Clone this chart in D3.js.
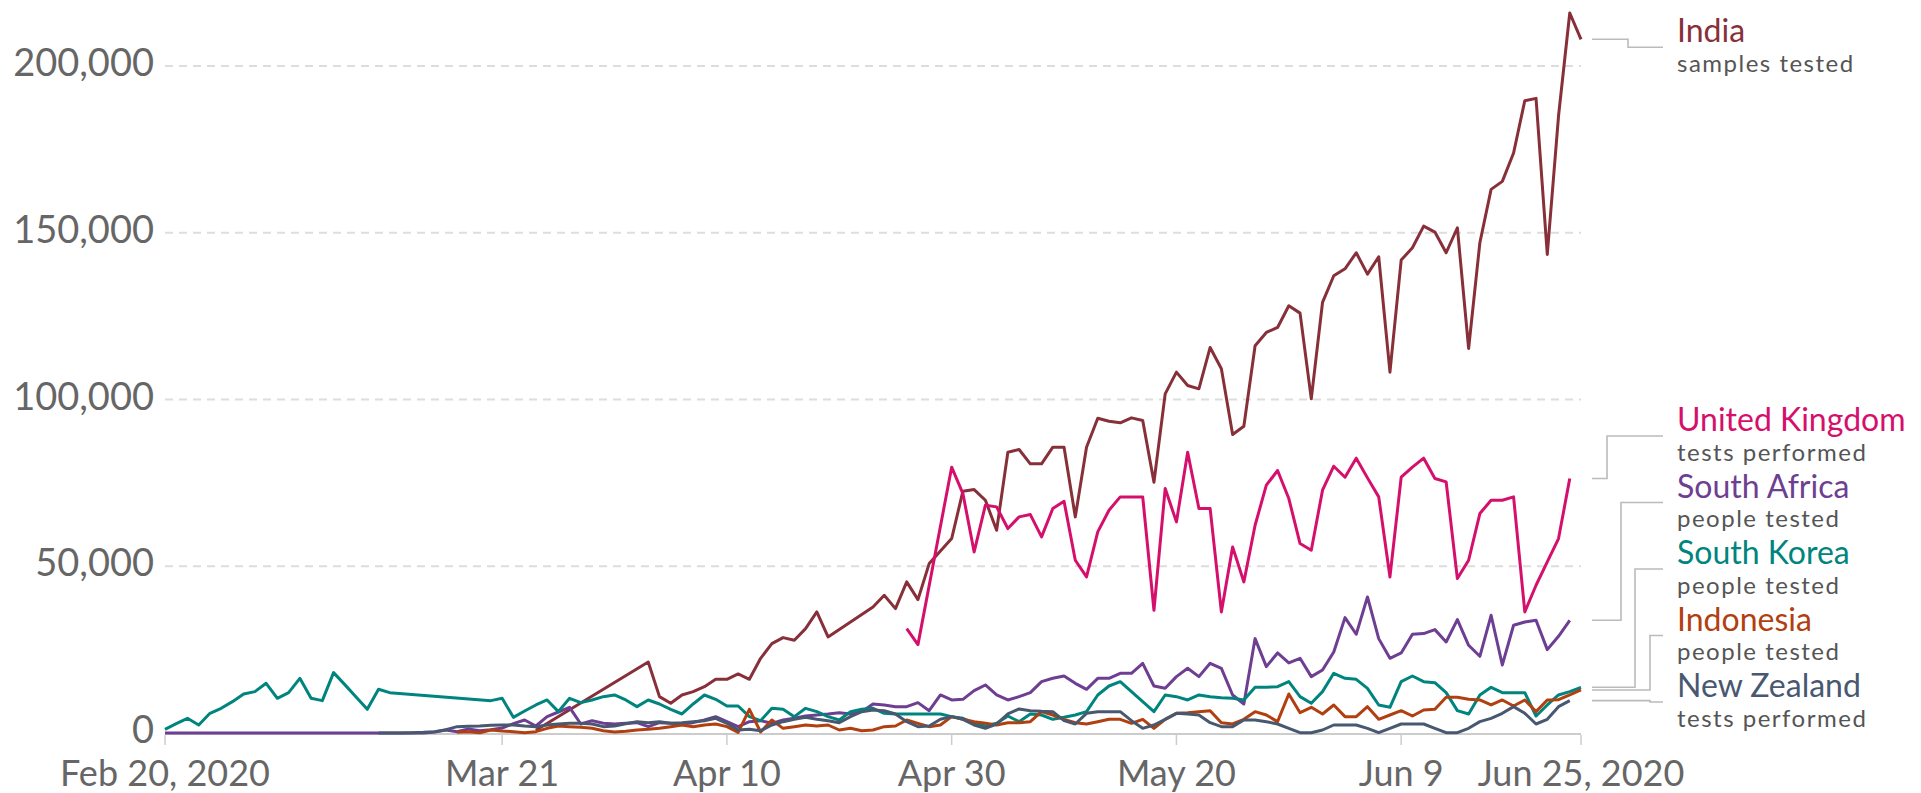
<!DOCTYPE html>
<html><head><meta charset="utf-8">
<script src="https://cdn.jsdelivr.net/npm/d3@7"></script>
<style>
body{margin:0;background:#fff}
svg{display:block}
text{font-family:Lato,"Open Sans",sans-serif}
</style>
</head><body>
<svg id="chart" width="1921" height="793"></svg>
<script>
// ---------- data ----------
const startDate = "2020-02-20";
const endDate = "2020-06-25";
const xTickDates = ["2020-02-20","2020-03-21","2020-04-10","2020-04-30","2020-05-20","2020-06-09","2020-06-25"];
const xTickLabels = ["Feb 20, 2020","Mar 21","Apr 10","Apr 30","May 20","Jun 9","Jun 25, 2020"];
const yTicks = [0, 50000, 100000, 150000, 200000];

const countries = ["India","United Kingdom","South Africa","South Korea","Indonesia","New Zealand"];
const units = ["samples tested","tests performed","people tested","people tested","people tested","tests performed"];
const colors = ["#883039","#d4106c","#6d3e91","#00847e","#b13f0f","#475870"];
// first day of each series, counted in days after Feb 20, 2020
const firstDay = [33, 66, 0, 0, 26, 19];

const india = [800,null,null,null,null,null,null,null,null,null,
  21300,10900,8900,11400,12400,13900,16100,16100,17700,16100,
  22400,26800,28600,27800,31300,36300,28800,null,33300,null,
  37800,41300,37300,45300,40000,50800,null,58300,72500,73000,
  69800,60800,84200,85000,80700,80700,85700,85700,64800,85700,
  94400,93500,93000,94500,93700,75200,101700,108200,104200,103200,
  115600,109200,89500,92000,116100,120100,121600,128100,125900,100200,
  129100,137100,139200,144000,137600,142800,108200,141800,145500,152000,
  150200,144000,151500,115300,147000,163000,165400,173900,189600,190300,
  143500,185000,215900,208000];

const unitedKingdom = [31300,26500,null,null,79700,71800,54300,68300,67800,61300,
  64800,65500,58800,67300,69500,51800,46800,60300,66800,70800,
  70800,70800,36800,73300,63300,84200,67300,67300,36300,55800,
  45300,62300,74300,78700,70300,56800,54800,72800,80000,76700,
  82400,76500,70800,46800,76700,79700,82400,76300,75300,46300,
  51800,65800,69800,69800,70800,36300,44300,51300,58300,76300];

const southAfrica = [0,0,0,0,0,0,0,0,0,0,0,0,0,0,0,0,0,0,0,0,0,0,0,0,
  300,900,400,1200,700,1000,1500,2800,3900,2100,
  4900,6300,7700,2700,3700,2900,2700,2900,3100,1900,
  3100,2900,2700,3100,3900,4900,3400,1900,3400,3700,
  2900,3900,4400,5100,5400,5700,6100,5700,6400,8700,
  8400,7900,7900,9100,6700,11400,9900,10100,12700,14400,
  11400,9900,10900,12100,15400,16400,17100,14900,13100,16400,
  16400,17900,17900,20900,14100,13400,16900,19400,16900,20900,
  19400,11400,8700,28300,19900,24000,21000,22400,16900,18900,
  24300,34600,29600,40800,28300,22400,24000,29600,29800,31000,
  27300,34000,26300,23000,35300,20400,32300,33300,33800,25000,
  29000,33800];

const southKorea = [1100,2800,4400,2400,5900,7400,9400,11700,12400,14900,
  10400,12100,16400,10400,9700,18100,14500,10800,7100,13100,
  12100,null,null,null,null,null,null,null,null,9700,
  10400,4700,6600,8400,9900,6400,10400,9100,9900,10900,
  11400,9900,7900,9900,8700,7100,5700,8700,11400,10100,
  8100,8100,4900,3700,7400,7100,4900,7400,6400,4900,
  3900,6400,7100,7400,5900,5700,5700,5700,5700,5700,
  4900,4400,2900,2100,2900,5100,3400,5700,5400,4100,
  4700,5400,6400,11400,14100,15400,12400,9400,6400,11400,
  10900,9900,11400,10900,10600,10400,9900,13700,13700,13900,
  15400,10900,8900,12400,17900,16400,16100,13400,8400,7700,
  15400,17100,15400,15100,12100,6700,5700,11400,13700,12100,
  12100,12100,5100,8400,11400,12400,13700];

const indonesia = [200,400,100,900,600,400,100,400,1400,2100,
  1900,1700,1400,700,300,500,900,1100,1400,1900,
  2400,1900,2400,2700,1900,200,7100,300,3900,1400,
  1900,2400,2100,2400,900,1400,700,900,1900,2100,
  3900,2900,1900,2400,4900,4100,3400,2900,2400,3100,
  3100,3400,6400,5400,4100,3100,2700,3400,4100,4100,
  2900,4100,1400,4100,5900,6100,6400,6700,3100,2700,
  4100,6400,5400,3400,11700,6100,7700,5700,8400,4900,
  4900,7900,4100,5400,6700,5100,6900,7100,10700,10700,
  10100,9900,8400,9900,8100,9900,6400,9900,10000,11400,
  12900];

const newZealand = [0,0,0,100,200,400,1000,1900,2000,2100,
  2300,2400,2400,2100,1900,2400,2700,2900,2900,2700,
  1900,2100,2800,3400,3100,3400,2900,3100,3400,3700,
  4400,2900,900,1100,700,2400,3400,4100,4700,4100,
  3700,3100,4900,6400,6900,6700,5700,3400,1900,2100,
  4100,4900,4100,2400,1400,2700,5700,7200,6700,6500,
  6400,3700,2700,5900,6400,6400,6400,3700,1400,2400,
  4100,5900,5700,5400,3100,1900,1900,3900,3900,3400,
  2700,1400,100,100,900,2400,2400,2400,1400,100,
  1400,2700,2700,2700,1400,100,100,1400,3400,4400,
  5900,7900,5900,2700,4100,7900,9700];

const seriesValues = [india, unitedKingdom, southAfrica, southKorea, indonesia, newZealand];

// ---------- layout ----------
const plotLeft = 165, plotRight = 1581, plotTop = 66, plotBottom = 733;
const kneeX = [1628, 1607, 1621, 1635, 1650, 1650];

const parse = d3.utcParse("%Y-%m-%d");
const t0 = parse(startDate);
const x = d3.scaleUtc().domain([t0, parse(endDate)]).range([plotLeft, plotRight]);
const y = d3.scaleLinear().domain([0, 200000]).range([plotBottom, plotTop]);

const svg = d3.select("#chart");

// gridlines
svg.append("g").selectAll("line")
  .data(yTicks.filter(d => d > 0)).join("line")
  .attr("x1", plotLeft).attr("x2", plotRight)
  .attr("y1", d => y(d)).attr("y2", d => y(d))
  .attr("stroke", "#dddddd").attr("stroke-width", 2)
  .attr("stroke-dasharray", "8,6");

// y labels
svg.append("g").selectAll("text")
  .data(yTicks).join("text")
  .attr("x", 154).attr("y", d => y(d) + 10)
  .attr("text-anchor", "end")
  .attr("font-size", 38).attr("fill", "#666")
  .text(d => d3.format(",")(d));

// baseline + x ticks
svg.append("line")
  .attr("x1", plotLeft).attr("x2", plotRight)
  .attr("y1", y(0) + 1).attr("y2", y(0) + 1)
  .attr("stroke", "#cccccc").attr("stroke-width", 2);

const xt = svg.append("g");
xt.selectAll("line").data(xTickDates).join("line")
  .attr("x1", d => x(parse(d))).attr("x2", d => x(parse(d)))
  .attr("y1", y(0) + 2).attr("y2", y(0) + 12)
  .attr("stroke", "#cccccc").attr("stroke-width", 1.5);
xt.selectAll("text").data(xTickDates).join("text")
  .attr("x", d => x(parse(d))).attr("y", 786)
  .attr("text-anchor", "middle")
  .attr("font-size", 36).attr("fill", "#666")
  .text((d, i) => xTickLabels[i]);

// lines
const line = d3.line().x(d => x(d.date)).y(d => y(d.v));
const series = countries.map((name, i) => {
  const pts = seriesValues[i]
    .map((v, k) => ({date: d3.utcDay.offset(t0, firstDay[i] + k), v}))
    .filter(p => p.v !== null);
  return {name, unit: units[i], color: colors[i], pts, last: pts[pts.length - 1], knee: kneeX[i]};
});

svg.append("g").selectAll("path").data(series).join("path")
  .attr("d", s => line(s.pts))
  .attr("fill", "none")
  .attr("stroke", s => s.color)
  .attr("stroke-width", 3)
  .attr("stroke-linejoin", "round");

// label placement: stack from bottom upward
const gap = 66.5, maxBase = 697;
const order = series.map((s, i) => i).sort((a, b) => series[a].last.v - series[b].last.v);
const base = new Array(series.length);
let prev = null;
order.forEach(i => {
  const want = y(series[i].last.v) + 3;
  const b = prev === null ? Math.min(want, maxBase) : Math.min(want, prev - gap);
  base[i] = b; prev = b;
});

const startX = plotRight + 11, endX = 1663, textX = 1677;
const lg = svg.append("g");
series.forEach((s, i) => {
  const ys = y(s.last.v), yl = base[i] + 5;
  lg.append("path")
    .attr("d", `M${startX},${ys}H${s.knee}V${yl}H${endX}`)
    .attr("fill", "none").attr("stroke", "#bbbbbb").attr("stroke-width", 1.6);
  lg.append("text").attr("x", textX).attr("y", base[i])
    .attr("font-size", 32).attr("fill", s.color).text(s.name);
  lg.append("text").attr("x", textX).attr("y", base[i] + 29.5)
    .attr("font-size", 24).attr("letter-spacing", 1.5).attr("fill", "#555").text(s.unit);
});
</script>
</body></html>
